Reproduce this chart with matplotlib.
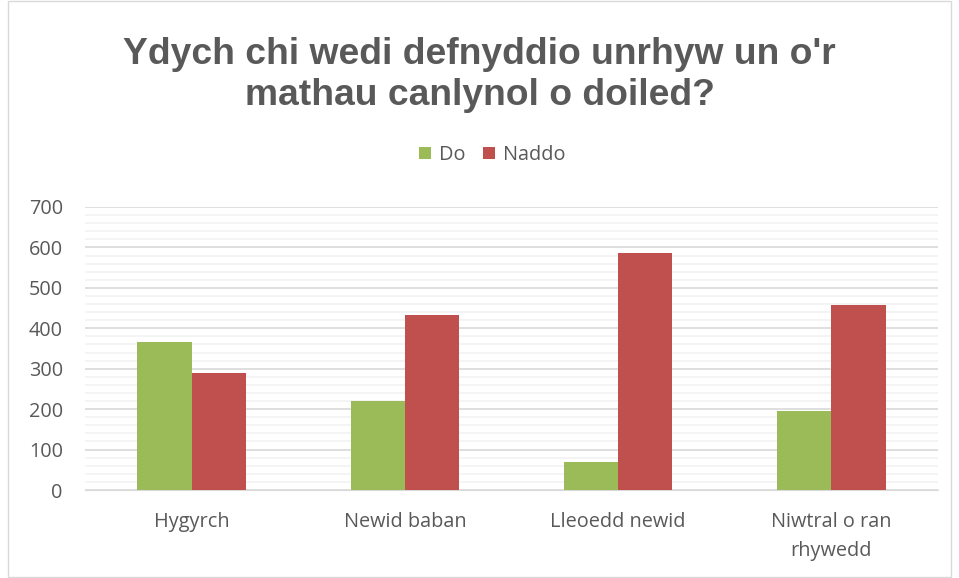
import numpy as np
import matplotlib.pyplot as plt
from matplotlib.patches import Rectangle
from matplotlib.ticker import MultipleLocator

categories = ['Hygyrch', 'Newid baban', 'Lleoedd newid', 'Niwtral o ran\nrhywedd']
do_vals = [365, 219, 69, 196]
naddo_vals = [289, 433, 586, 458]
series_names = ['Do', 'Naddo']
colors = ['#9BBB59', '#C0504D']
gray = '#595959'

plt.rcParams['font.family'] = ['Open Sans', 'DejaVu Sans']

fig = plt.figure(figsize=(9.59, 5.78), dpi=100)
fig.patches.append(Rectangle((0.008, 0.002), 0.984, 0.996, transform=fig.transFigure,
                             fill=False, edgecolor='#D9D9D9', linewidth=1))
ax = fig.add_axes([85/959, 1-490/578, (938-85)/959, (490-207)/578])

x = np.arange(len(categories))
w = 0.254
ax.bar(x - w/2, do_vals, w, color=colors[0], label=series_names[0], zorder=3)
ax.bar(x + w/2, naddo_vals, w, color=colors[1], label=series_names[1], zorder=3)

ax.set_xlim(-0.5, len(categories) - 0.5)
ax.set_ylim(0, 700)
ax.yaxis.set_major_locator(MultipleLocator(100))
ax.yaxis.set_minor_locator(MultipleLocator(20))
ax.grid(axis='y', which='major', color='#D9D9D9', linewidth=1.2, zorder=0)
ax.grid(axis='y', which='minor', color='#F2F2F2', linewidth=1.2, zorder=0)
for s in ['top', 'right', 'left']:
    ax.spines[s].set_visible(False)
ax.spines['bottom'].set_color('#D9D9D9')
ax.tick_params(axis='both', which='both', length=0, labelsize=14.3, colors=gray)
ax.tick_params(axis='y', pad=16)
ax.tick_params(axis='x', pad=16)
ax.set_xticks(x)
ax.set_xticklabels(categories, linespacing=1.6)

fig.text(0.5, 0.87, "Ydych chi wedi defnyddio unrhyw un o'r\nmathau canlynol o doiled?",
         ha='center', va='center', fontsize=26.8, fontweight='bold', color=gray,
         family='Liberation Sans', linespacing=1.2)

leg = fig.legend(loc='center', bbox_to_anchor=(492/959, 1-155/578), ncol=2, frameon=False,
                 fontsize=14.3, handlelength=0.6, handleheight=0.6, columnspacing=0.9,
                 handletextpad=0.4)
for t in leg.get_texts():
    t.set_color(gray)

fig.savefig('out.png', dpi=100)
